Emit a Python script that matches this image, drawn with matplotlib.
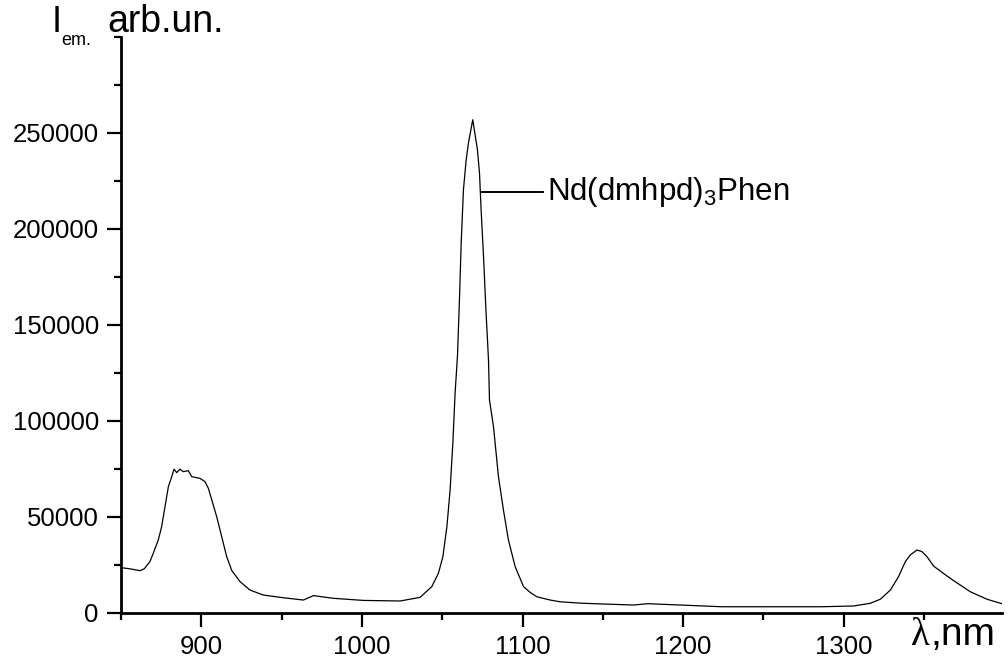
import matplotlib
matplotlib.use('Agg')
import matplotlib.pyplot as plt
import numpy as np

# emission spectrum (nm, arb. units)
wavelength = [850, 856, 861.8, 864.5, 868, 870.1, 873.2, 875.3, 877.4, 879.5,
              881.6, 883, 884.7, 886.7, 888.8, 891.9, 894, 899.2, 902.3, 904.4,
              906.5, 909.6, 912.7, 915.8, 919, 924.1, 930.3, 938.6, 951, 963.6,
              969.8, 982.2, 1000.9, 1023.8, 1036.2, 1043.5, 1047.6, 1050.4, 1052.9, 1054.9,
              1056.6, 1058, 1059.5, 1060.7, 1061.8, 1063.2, 1064.9, 1066.3, 1069, 1071.9,
              1073.2, 1074.2, 1075.7, 1077.3, 1078.8, 1079.4, 1081.9, 1085, 1088.1, 1091.2,
              1095.4, 1100.6, 1104.7, 1108.9, 1117.2, 1123.4, 1131.8, 1138, 1154.8, 1169.1,
              1177.9, 1201, 1224, 1241.8, 1285.8, 1306.1, 1316.5, 1322.7, 1329, 1334.1,
              1338.3, 1341.4, 1345.6, 1348.7, 1351.8, 1355.9, 1364.3, 1368.4, 1378.8, 1389.2,
              1399.2]
intensity_k = [23.5, 22.8, 21.9, 22.9, 26.6, 31, 37.9, 44.8, 55.3, 65.7,
               70.9, 74.8, 73, 74.8, 73.5, 74, 70.9, 70, 68.3, 64.8,
               58.8, 50, 39.6, 29.2, 21.9, 16.2, 11.8, 9.2, 7.8, 6.6,
               8.9, 7.5, 6.4, 6.1, 8, 13.6, 20.5, 29.2, 44.8, 64,
               88.3, 114.4, 134, 163, 192.6, 220.4, 236, 244.7, 256.9, 241.3,
               229.1, 210, 185.6, 156.1, 131.8, 110.9, 97, 70.9, 53.5, 37.9,
               24, 13.6, 10.6, 8.3, 6.6, 5.7, 5.2, 4.9, 4.4, 4.0,
               4.7, 3.9, 3.1, 3.1, 3.1, 3.5, 4.9, 7, 11.8, 18.8,
               26.6, 30.1, 32.7, 31.8, 29.2, 24.3, 19.1, 16.7, 10.9, 7,
               4.5]
intensity = np.array(intensity_k) * 1000

x_ticks = [900, 1000, 1100, 1200, 1300]
y_ticks = [0, 50000, 100000, 150000, 200000, 250000]
label_text = 'Nd(dmhpd)$_3$Phen'
label_line_x = [1074.5, 1113]
label_y = 219000

plt.rcParams['font.family'] = 'Liberation Sans'
plt.rcParams['mathtext.fontset'] = 'custom'
plt.rcParams['mathtext.rm'] = 'Liberation Sans'
plt.rcParams['mathtext.default'] = 'regular'

W, H = 1008, 659
fig = plt.figure(figsize=(W / 100, H / 100), dpi=100)
ax = fig.add_axes([121 / W, 1 - 612.7 / H, (1002 - 121) / W, (612.7 - 37) / H])

ax.plot(wavelength, intensity, color='black', lw=0.9)

# leader line + label
ax.plot(label_line_x, [label_y, label_y], color='black', lw=1.4)
ax.text(label_line_x[1] + 2, label_y, label_text, fontsize=22.5, va='center', ha='left')

ax.set_xlim(850, 1398.5)
ax.set_ylim(0, 300000)
ax.set_xticks(x_ticks)
ax.set_yticks(y_ticks)
ax.set_xticks(np.arange(850, 1400, 50), minor=True)
ax.set_yticks(np.arange(0, 300001, 25000), minor=True)
ax.tick_params(which='major', direction='out', length=10, width=1.6, labelsize=18.5, pad=6)
ax.tick_params(which='minor', direction='out', length=5, width=1.6)
for s in ['top', 'right']:
    ax.spines[s].set_visible(False)
for s in ['left', 'bottom']:
    ax.spines[s].set_linewidth(2)

# axis titles
fy = 1 - 32 / H
fig.text(52 / W, fy, 'I', fontsize=26, va='baseline')
fig.text(61 / W, 1 - 45 / H, 'em.', fontsize=13, va='baseline')
fig.text(107 / W, fy, 'arb.un.', fontsize=27, va='baseline')

fig.text(911 / W, 1 - 645 / H, 'λ', fontsize=28, family='Liberation Serif', va='baseline')
fig.text(930 / W, 1 - 645 / H, ',nm', fontsize=28, va='baseline')

fig.savefig('out.png', dpi=100)
